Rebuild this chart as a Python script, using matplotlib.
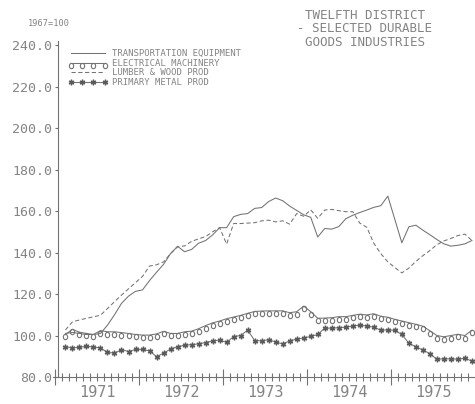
import matplotlib
matplotlib.use('Agg')
import matplotlib.pyplot as plt
import numpy as np
import pandas as pd
from matplotlib.path import Path
from matplotlib.ticker import FixedLocator, FuncFormatter

# ── Data (index, 1967=100), monthly Feb 1971 .. Dec 1975 ──
MONTHS = pd.period_range('1971-02', '1975-12', freq='M')

TRANSPORT = [101, 101.5, 101, 100.5, 100.5, 101, 105, 110, 115.5, 119, 121.3, 122,
             126.5, 130.5, 134.3, 139.5, 143, 140.4, 141.5, 144.5, 145.8, 148.5, 152, 152,
             157.3, 158.4, 158.8, 161.3, 161.7, 164.6, 166.3, 165, 162.4, 160.3, 158.2, 157,
             147.5, 151.6, 151.3, 152.5, 156.3, 158, 159.3, 160.5, 161.8, 162.6, 167.2, 156,
             144.7, 152.4, 153.2, 150.8, 148.6, 146.3, 144.2, 143.1, 143.5, 144.2, 145.8]

ELECTRICAL = [100.5, 103, 101.6, 101, 100.5, 102.4, 101.8, 101.8, 101.4, 101, 100.5, 100.2,
              100.2, 100.8, 102, 101, 101, 101.8, 102.1, 103.3, 104.8, 106.1, 107, 108.1,
              108.9, 109.7, 110.7, 111.6, 111.8, 111.9, 111.9, 111.9, 111, 111.5, 114.2, 111.5,
              108.3, 108.4, 108.6, 109.1, 109.1, 109.7, 110.3, 109.9, 110.5, 109.3, 108.8, 107.8,
              107, 106.2, 105.4, 104.5, 102.3, 100, 99.4, 100, 100.6, 100, 102.6]

LUMBER = [102.7, 106.6, 107.5, 108.3, 109, 109.8, 113, 116.3, 119.5, 122.5, 125.5, 128.5,
          133.5, 134.1, 135.5, 139.5, 142.8, 143.2, 145.4, 146.6, 147.7, 150, 152, 144.1,
          154, 154, 154.2, 154.4, 155.3, 155.6, 154.8, 155.3, 153.7, 158.8, 157.5, 160.6,
          156.5, 160.5, 160.8, 160.2, 159.7, 159.7, 154.2, 152.2, 144.5, 139.5, 135.5, 132.8,
          130.2, 132.5, 135.7, 138.5, 141, 143.8, 145.6, 146.8, 148.2, 148.9, 145.8]

PRIMARY_METAL = [94.6, 94.1, 94.3, 94.8, 94.5, 94.0, 91.9, 91.5, 93.2, 92.3, 93.3, 93.3,
                 92.6, 89.8, 91.5, 93.5, 94.6, 95.3, 95.6, 96.0, 96.6, 97.4, 97.8, 96.7,
                 99.5, 100, 102.6, 97.6, 97.4, 98, 96.9, 96, 97.4, 98.3, 98.8, 99.6,
                 100.5, 103.6, 103.5, 103.8, 104, 104.6, 105, 104.6, 104, 102.6, 102.7, 102.5,
                 100.5, 96.3, 94.6, 93, 91.3, 88.5, 88.8, 88.7, 88.6, 89, 87.7]

LABELS = ["TRANSPORTATION EQUIPMENT", "ELECTRICAL MACHINERY",
          "LUMBER & WOOD PROD", "PRIMARY METAL PROD"]
YEARS = [1971, 1972, 1973, 1974, 1975]
Y_TICKS = [80, 100, 120, 140, 160, 180, 200, 220, 240]

# ── Style ──
LINE = '#727272'
TEXT = '#848484'
FONT = 'DejaVu Sans Mono'
plt.rcParams.update({'font.family': FONT})

# circle marker hanging below the data point (plotter style)
t = np.linspace(0, 2 * np.pi, 40)
HANG_O = Path(np.column_stack([0.42 * np.sin(t), -0.5 - 0.52 * np.cos(t)]))

x = np.array([p.year + (p.month - 0.5) / 12 for p in MONTHS])

fig = plt.figure(figsize=(4.75, 4.04), dpi=100)
ax = fig.add_axes([0.1126, 0.0668, 0.8874, 0.8317])

ax.plot(x, TRANSPORT, '-', color=LINE, lw=0.75, label=LABELS[0])
ax.plot(x, ELECTRICAL, '-', color=LINE, lw=0.75, marker=HANG_O, ms=7.5,
        mfc='none', mec=LINE, mew=0.8, label=LABELS[1])
ax.plot(x, LUMBER, '--', color=LINE, lw=0.75, dashes=(4, 2.5), label=LABELS[2])
ax.plot(x, PRIMARY_METAL, '-', color=LINE, lw=0.75, marker=(6, 2, 0), ms=4,
        mec='#5a5a5a', mew=1.0, label=LABELS[3])

ax.set_xlim(1970.983, 1975.995)
ax.set_ylim(80, 242)

for s in ['top', 'right']:
    ax.spines[s].set_visible(False)
ax.spines['left'].set_position(('data', 1971.037))
for s in ['left', 'bottom']:
    ax.spines[s].set_color(LINE)
    ax.spines[s].set_linewidth(0.8)

# y axis
ax.set_yticks(Y_TICKS)
ax.yaxis.set_major_formatter(FuncFormatter(lambda v, _: f"{v:.1f}"))
ax.tick_params(axis='y', direction='out', length=2, width=0.8, color=LINE,
               labelcolor=TEXT, labelsize=9.5, pad=2)

# x axis: year boundaries (major), months (minor), labels mid-year
ax.xaxis.set_major_locator(FixedLocator(YEARS))
ax.xaxis.set_major_formatter(FuncFormatter(lambda v, _: ''))
months = [y + k / 12 for y in YEARS for k in range(12)]
ax.xaxis.set_minor_locator(FixedLocator(months))
ax.xaxis.set_minor_formatter(FuncFormatter(
    lambda v, _: f"{int(v)}" if abs(v - int(v) - 0.5) < 0.01 else ''))
ax.tick_params(axis='x', which='major', direction='inout', length=11, width=0.8, color=LINE)
ax.tick_params(axis='x', which='minor', direction='inout', length=6, width=0.8, color=LINE,
               labelcolor=TEXT, labelsize=11, pad=3)

leg = ax.legend(loc='upper left', bbox_to_anchor=(0.034, 0.975), frameon=False,
                fontsize=6.5, numpoints=4, handlelength=4.4, handletextpad=0.45,
                labelspacing=0.05, borderpad=0, borderaxespad=0)
for txt in leg.get_texts():
    txt.set_color(TEXT)

fig.text(0.768, 0.978, "TWELFTH DISTRICT\n- SELECTED DURABLE\nGOODS INDUSTRIES",
         ha='center', va='top', ma='center', fontsize=9, color=TEXT, linespacing=1.05)
fig.text(0.103, 0.943, "1967=100", ha='center', va='center', fontsize=6.2, color=TEXT)

fig.savefig('out.png', dpi=100)
